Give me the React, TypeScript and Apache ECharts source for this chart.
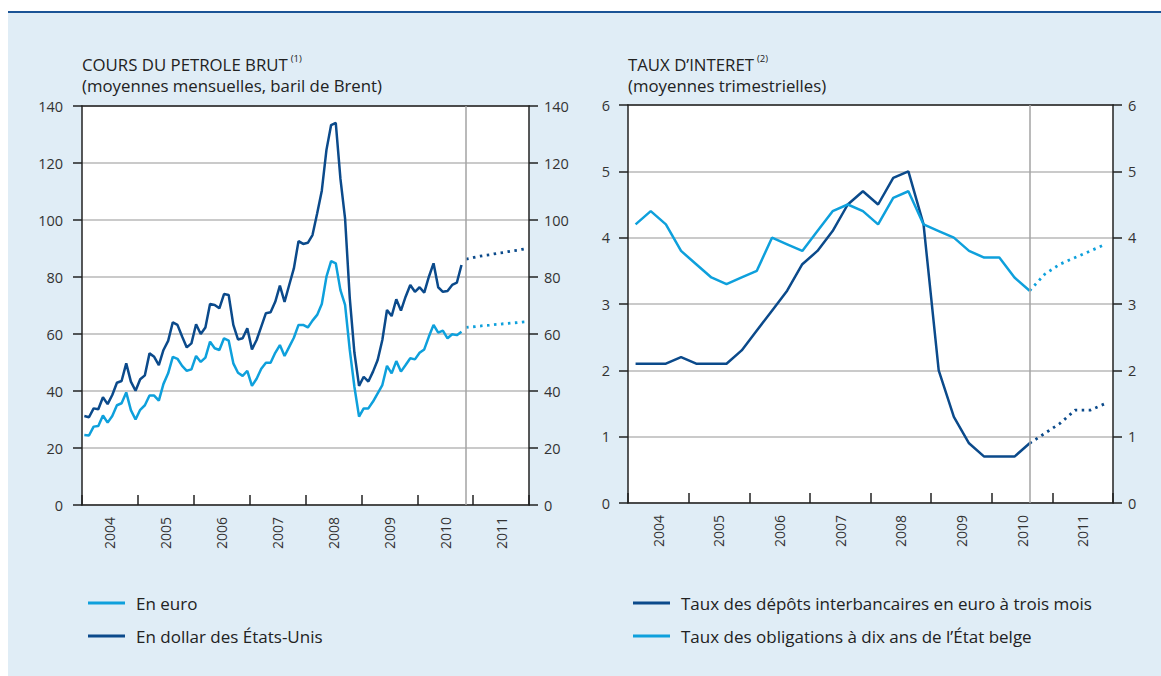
import { useEffect, useRef } from 'react';
import * as echarts from 'echarts';

// ---- Data ----
const years = ['2004', '2005', '2006', '2007', '2008', '2009', '2010', '2011'];

// Brent monthly averages, Jan 2004 .. Oct 2010
const oilEuro = [
  24.6, 24.4, 27.5, 27.7, 31.4, 28.9, 31.2, 35.0, 35.7, 39.5, 33.3, 30.0,
  33.4, 35.0, 38.4, 38.4, 36.6, 42.5, 46.2, 52.0, 51.3, 48.8, 47.1, 47.6,
  52.3, 50.2, 51.7, 57.3, 55.0, 54.4, 58.5, 57.7, 49.7, 46.4, 45.3, 47.1,
  41.8, 44.3, 47.8, 49.9, 49.9, 53.4, 56.1, 52.3, 55.5, 58.7, 63.2, 63.2,
  62.3, 64.7, 66.7, 70.5, 80.1, 85.6, 84.8, 75.4, 70.2, 54.5, 41.5, 31.0,
  33.9, 33.9, 36.3, 39.2, 42.1, 48.8, 46.2, 50.5, 46.8, 49.1, 51.5, 51.1,
  53.4, 54.6, 59.1, 63.2, 60.5, 61.2, 58.5, 59.9, 59.6, 60.8,
];
const oilDollar = [
  31.2, 30.8, 33.9, 33.6, 37.8, 35.4, 38.6, 42.9, 43.5, 49.7, 43.3, 40.1,
  44.1, 45.5, 53.2, 52.0, 49.1, 54.4, 57.6, 64.1, 63.2, 59.1, 55.3, 56.7,
  63.4, 60.0, 62.3, 70.5, 70.2, 69.0, 74.0, 73.7, 63.2, 58.1, 58.5, 62.0,
  54.6, 57.9, 62.6, 67.3, 67.6, 71.3, 77.0, 71.3, 77.2, 83.0, 92.6, 91.6,
  92.0, 94.7, 102.3, 110.3, 124.6, 133.3, 134.1, 114.5, 100.5, 72.8, 53.5, 41.8,
  45.0, 43.3, 46.8, 50.9, 57.9, 68.4, 66.3, 72.2, 68.2, 73.1, 77.2, 74.8,
  76.4, 74.5, 80.1, 84.8, 76.4, 74.8, 75.1, 77.2, 78.0, 84.2,
];
// Futures, Nov 2010 .. Dec 2011
const oilEuroFuture = [62.3, 62.5, 62.6, 62.8, 63.0, 63.1, 63.3, 63.4, 63.6, 63.7, 63.9, 64.0, 64.2, 64.3];
const oilDollarFuture = [86.3, 86.6, 87.0, 87.3, 87.6, 87.8, 88.1, 88.4, 88.6, 88.9, 89.2, 89.4, 89.7, 90.0];

// Quarterly averages, Q1 2004 .. Q3 2010
const interbank = [
  2.1, 2.1, 2.1, 2.2, 2.1, 2.1, 2.1, 2.3, 2.6, 2.9, 3.2, 3.6, 3.8, 4.1,
  4.5, 4.7, 4.5, 4.9, 5.0, 4.2, 2.0, 1.3, 0.9, 0.7, 0.7, 0.7, 0.9,
];
const bond = [
  4.2, 4.4, 4.2, 3.8, 3.6, 3.4, 3.3, 3.4, 3.5, 4.0, 3.9, 3.8, 4.1, 4.4,
  4.5, 4.4, 4.2, 4.6, 4.7, 4.2, 4.1, 4.0, 3.8, 3.7, 3.7, 3.4, 3.2,
];
// Expectations, Q3 2010 .. Q4 2011
const interbankFuture = [0.9, 1.05, 1.2, 1.4, 1.4, 1.5];
const bondFuture = [3.2, 3.45, 3.6, 3.7, 3.8, 3.9];

const leftTicks = [0, 20, 40, 60, 80, 100, 120, 140];
const rightTicks = [0, 1, 2, 3, 4, 5, 6];

// ---- Style ----
const DARK = '#0b4a8b';
const LIGHT = '#0ea0dc';
const AXIS = '#222';
const GRIDLINE = '#b9b9b9';
const TXT = '#333';
const FONT = '"Open Sans", "Noto Sans", sans-serif';
const TITLE_SIZE = 16.8;

const monthly = (arr: number[], start: number) => arr.map((v, i) => [(start + i + 0.5) / 12, v]);
const quarterly = (arr: number[], start: number) => arr.map((v, i) => [(start + i + 0.5) / 4, v]);

function measure(text: string, size: number) {
  const c = document.createElement('canvas').getContext('2d')!;
  c.font = `${size}px "Open Sans"`;
  return c.measureText(text).width;
}

export default function App() {
  const ref = useRef<HTMLDivElement>(null);
  useEffect(() => {
    const chart = echarts.init(ref.current!, null, { renderer: 'svg' });

    const yAxisPair = (gridIndex: number, ticks: number[], mL: number, mR: number) => {
      const base = {
        type: 'value' as const,
        gridIndex,
        min: ticks[0],
        max: ticks[ticks.length - 1],
        interval: ticks[1] - ticks[0],
        axisLine: { show: true, lineStyle: { color: AXIS, width: 1.5 } },
        axisTick: { show: true, inside: false, length: 9, lineStyle: { color: AXIS, width: 1.5 } },
      };
      const lbl = { color: TXT, fontSize: 14.5, fontFamily: FONT };
      return [
        { ...base, position: 'left', axisLabel: { ...lbl, margin: mL }, splitLine: { show: true, lineStyle: { color: GRIDLINE, width: 1.5 } } },
        { ...base, position: 'right', axisLabel: { ...lbl, margin: mR }, splitLine: { show: false } },
      ];
    };
    const xAxisPair = (gridIndex: number) => [
      {
        type: 'category',
        gridIndex,
        data: years,
        position: 'bottom',
        boundaryGap: true,
        axisLine: { show: true, lineStyle: { color: AXIS, width: 1.5 } },
        axisTick: { show: true, inside: true, length: 10, alignWithLabel: false, lineStyle: { color: AXIS, width: 1.5 } },
        axisLabel: { rotate: 90, color: TXT, fontSize: 14, fontFamily: FONT, margin: 12 },
        splitLine: { show: false },
      },
      {
        type: 'value',
        gridIndex,
        min: 0,
        max: 8,
        position: 'top',
        axisLine: { show: true, onZero: false, lineStyle: { color: AXIS, width: 1.5 } },
        axisTick: { show: false },
        axisLabel: { show: false },
        splitLine: { show: false },
      },
    ];

    const solid = (color: string) => ({ color, width: 2.5 });
    const dotted = (color: string) => ({ color, width: 2.8, type: [2.5, 4.5] as number[], cap: 'butt' as const });
    const vline = (x: number) => ({
      silent: true,
      symbol: ['none', 'none'],
      label: { show: false },
      lineStyle: { color: '#a3a3a3', width: 1.5, type: 'solid' },
      data: [{ xAxis: x }],
    });

    const titleL1 = 'COURS DU PETROLE BRUT';
    const titleR1 = 'TAUX D\u2019INTERET';
    const wL = measure(titleL1, TITLE_SIZE);
    const wR = measure(titleR1, TITLE_SIZE);

    const textEl = (x: number, y: number, text: string, size: number) => ({
      type: 'text',
      x,
      y,
      style: { text, fill: '#222', font: `${size}px ${FONT}`, textVerticalAlign: 'middle' },
    });

    const legendText = { color: '#222', fontSize: 17, fontFamily: FONT, lineHeight: 18, padding: [0, 0, 0, 6] };

    chart.setOption({
      animation: false,
      textStyle: { fontFamily: FONT },
      grid: [
        { left: 82, top: 106, width: 447, height: 399, show: true, backgroundColor: '#fff', borderWidth: 0 },
        { left: 628, top: 105, width: 485, height: 398, show: true, backgroundColor: '#fff', borderWidth: 0 },
      ],
      xAxis: [...xAxisPair(0), ...xAxisPair(1)],
      yAxis: [...yAxisPair(0, leftTicks, 19, 15), ...yAxisPair(1, rightTicks, 18, 15)],
      legend: [
        {
          left: 83,
          top: 589,
          orient: 'vertical',
          icon: 'rect',
          itemWidth: 37,
          itemHeight: 3,
          itemGap: 15,
          data: ['En euro', 'En dollar des États-Unis'],
          textStyle: legendText,
        },
        {
          left: 628,
          top: 589,
          orient: 'vertical',
          icon: 'rect',
          itemWidth: 37,
          itemHeight: 3,
          itemGap: 15,
          data: ['Taux des dépôts interbancaires en euro à trois mois', 'Taux des obligations à dix ans de l\u2019État belge'],
          textStyle: legendText,
        },
      ],
      graphic: [
        textEl(82, 64, titleL1, TITLE_SIZE),
        textEl(82 + wL + 3, 58, '(1)', 9.5),
        textEl(82, 85, '(moyennes mensuelles, baril de Brent)', TITLE_SIZE),
        textEl(628, 64, titleR1, TITLE_SIZE),
        textEl(628 + wR + 3, 58, '(2)', 9.5),
        textEl(628, 85, '(moyennes trimestrielles)', TITLE_SIZE),
      ],
      series: [
        {
          name: 'En euro', type: 'line', xAxisIndex: 1, yAxisIndex: 0, symbol: 'none',
          data: monthly(oilEuro, 0), lineStyle: solid(LIGHT), itemStyle: { color: LIGHT },
          markLine: vline((oilDollar.length + 0.3) / 12),
        },
        {
          name: 'En dollar des États-Unis', type: 'line', xAxisIndex: 1, yAxisIndex: 0, symbol: 'none',
          data: monthly(oilDollar, 0), lineStyle: solid(DARK), itemStyle: { color: DARK },
        },
        {
          name: 'euro-futures', type: 'line', xAxisIndex: 1, yAxisIndex: 0, symbol: 'none',
          data: monthly(oilEuroFuture, oilEuro.length), lineStyle: dotted(LIGHT), itemStyle: { color: LIGHT },
        },
        {
          name: 'dollar-futures', type: 'line', xAxisIndex: 1, yAxisIndex: 0, symbol: 'none',
          data: monthly(oilDollarFuture, oilDollar.length), lineStyle: dotted(DARK), itemStyle: { color: DARK },
        },
        {
          name: 'Taux des dépôts interbancaires en euro à trois mois', type: 'line', xAxisIndex: 3, yAxisIndex: 2, symbol: 'none',
          data: quarterly(interbank, 0), lineStyle: solid(DARK), itemStyle: { color: DARK },
          markLine: vline((interbank.length - 0.5) / 4),
        },
        {
          name: 'Taux des obligations à dix ans de l\u2019État belge', type: 'line', xAxisIndex: 3, yAxisIndex: 2, symbol: 'none',
          data: quarterly(bond, 0), lineStyle: solid(LIGHT), itemStyle: { color: LIGHT },
        },
        {
          name: 'interbank-exp', type: 'line', xAxisIndex: 3, yAxisIndex: 2, symbol: 'none',
          data: quarterly(interbankFuture, interbank.length - 1), lineStyle: dotted(DARK), itemStyle: { color: DARK },
        },
        {
          name: 'bond-exp', type: 'line', xAxisIndex: 3, yAxisIndex: 2, symbol: 'none',
          data: quarterly(bondFuture, bond.length - 1), lineStyle: dotted(LIGHT), itemStyle: { color: LIGHT },
        },
      ],
    });
    return () => chart.dispose();
  }, []);

  return (
    <div style={{ position: 'fixed', left: 0, top: 0, width: 1161, height: 676, background: '#fff', overflow: 'hidden' }}>
      <div style={{ position: 'absolute', left: 8, top: 11, width: 1153, height: 2, background: '#1b5496' }} />
      <div style={{ position: 'absolute', left: 8, top: 13, width: 1153, height: 663, background: '#e0edf6' }} />
      <div ref={ref} style={{ position: 'absolute', left: 0, top: 0, width: 1161, height: 676 }} />
    </div>
  );
}
